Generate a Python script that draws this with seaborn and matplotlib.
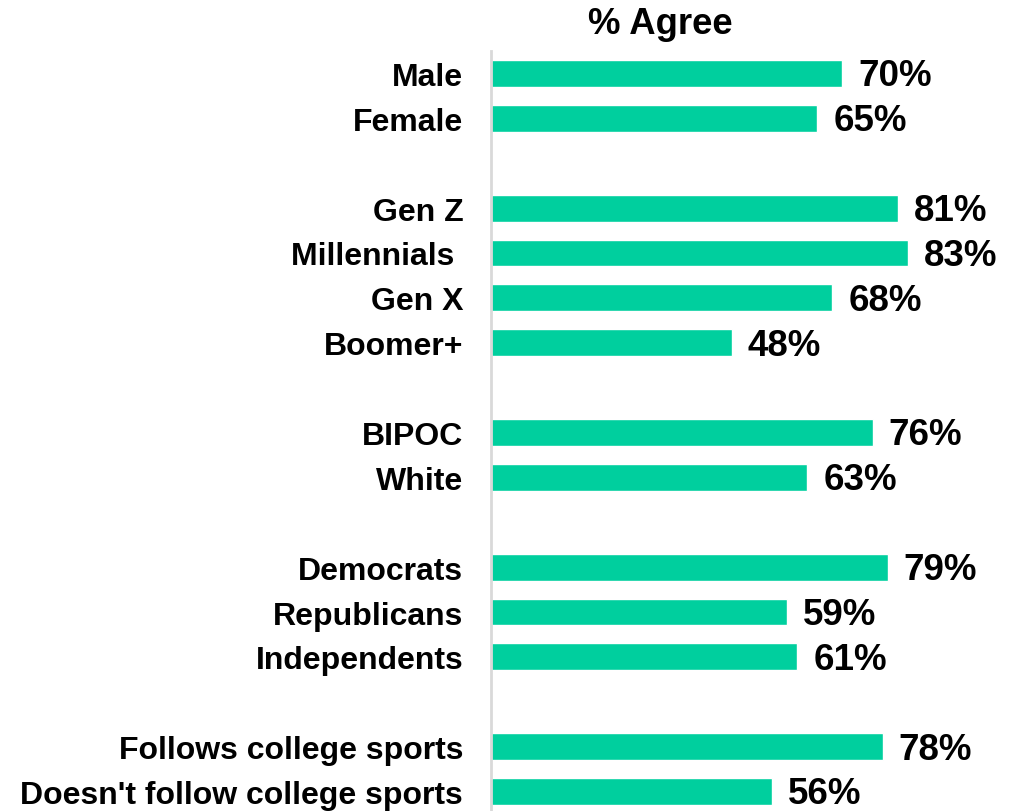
import matplotlib
matplotlib.use("Agg")
import matplotlib.pyplot as plt
import seaborn as sns
import pandas as pd

sns.set_theme(style="white")
plt.rcParams['font.family'] = ['Liberation Sans', 'DejaVu Sans']

categories = ["Male", "Female", "Gen Z", "Millennials ", "Gen X", "Boomer+",
              "BIPOC", "White", "Democrats", "Republicans", "Independents",
              "Follows college sports", "Doesn't follow college sports"]
values = [70, 65, 81, 83, 68, 48, 76, 63, 79, 59, 61, 78, 56]
groups = [["Male", "Female"],
          ["Gen Z", "Millennials ", "Gen X", "Boomer+"],
          ["BIPOC", "White"],
          ["Democrats", "Republicans", "Independents"],
          ["Follows college sports", "Doesn't follow college sports"]]
title = "% Agree"

# build order with blank spacer slots between groups
order = []
for i, g in enumerate(groups):
    if i > 0:
        order.append("\u200b" * i)
    order.extend(g)

df = pd.DataFrame({"label": categories, "value": values})

fig = plt.figure(figsize=(10.23, 8.12), dpi=100)
ax = fig.add_axes([491 / 1023, -3 / 812, 502 / 1023, (812 - 52 + 3) / 812])

sns.barplot(data=df, y="label", x="value", order=order, orient="h",
            color="#00CF9E", saturation=1, width=0.6, ax=ax, errorbar=None)

ax.set_xlim(0, 100)
ax.set_ylim(len(order) - 0.5, -0.5)
ax.set_xlabel("")
ax.set_ylabel("")
ax.set_xticks([])

real_pos = [order.index(c) for c in categories]
ax.set_yticks(real_pos, categories)

for s in ["top", "right", "bottom"]:
    ax.spines[s].set_visible(False)
ax.spines["left"].set_color("#D9D9D9")
ax.spines["left"].set_linewidth(2)
ax.tick_params(axis="y", length=0, pad=20)
for t in ax.get_yticklabels():
    t.set_fontsize(23)
    t.set_fontweight("bold")
    t.set_color("black")

for c in ax.containers:
    for bar in c:
        w = bar.get_width()
        yc = bar.get_y() + bar.get_height() / 2
        ax.annotate(f"{w:.0f}%", xy=(w, yc), xytext=(11.5, 1.2),
                    textcoords="offset points", ha="left", va="center_baseline",
                    fontsize=26.5, fontweight="bold", color="black",
                    annotation_clip=False)

fig.text(660 / 1023, 1 - 25 / 812, title, ha="center", va="center",
         fontsize=26.3, fontweight="bold", color="black")

fig.savefig("out.png", dpi=100)
